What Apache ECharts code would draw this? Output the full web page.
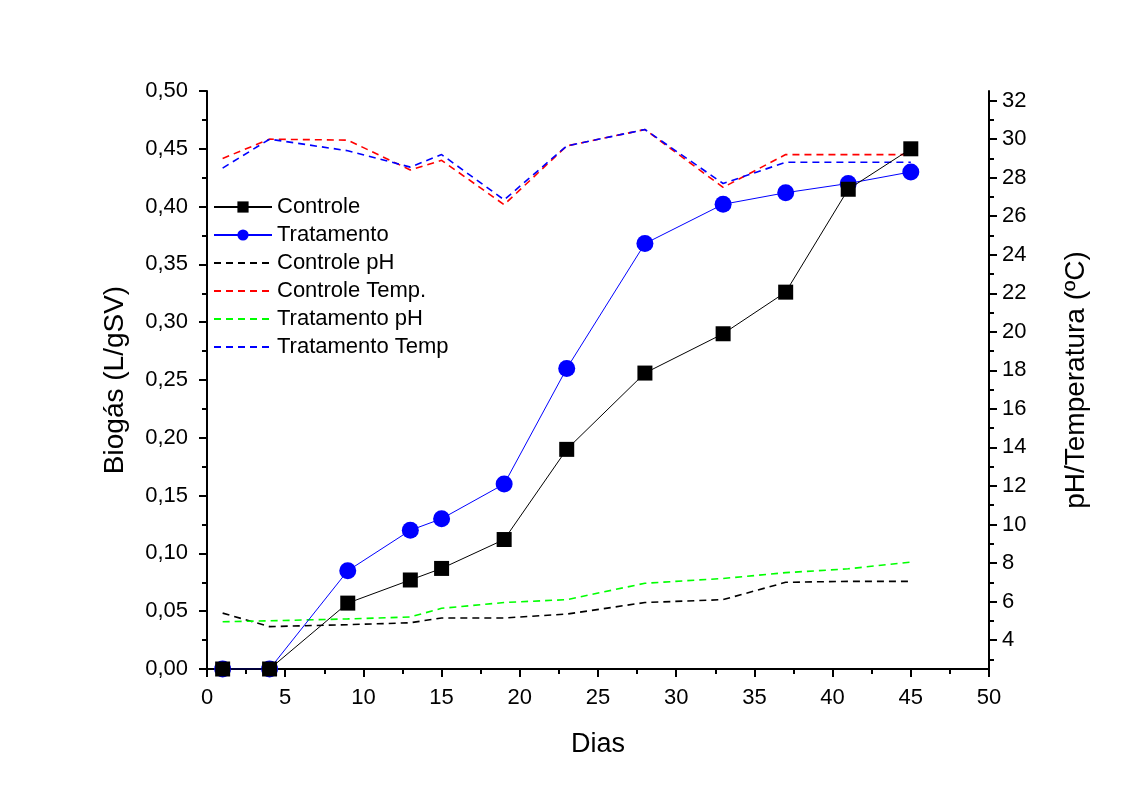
<!DOCTYPE html>
<html>
<head>
<meta charset="utf-8">
<script src="https://cdn.jsdelivr.net/npm/echarts@6/dist/echarts.min.js"></script>
<style>
html,body{margin:0;padding:0;background:#fff;}
#chart{width:1131px;height:794px;}
</style>
</head>
<body>
<div id="chart"></div>
<script>
const days = [1, 4, 9, 13, 15, 19, 23, 28, 33, 37, 41, 45];
const controle = [0, 0, 0.057, 0.077, 0.087, 0.112, 0.19, 0.256, 0.29, 0.326, 0.415, 0.45];
const tratamento = [0, 0, 0.085, 0.12, 0.13, 0.16, 0.26, 0.368, 0.402, 0.412, 0.42, 0.43];
const controlePH = [5.4, 4.7, 4.8, 4.9, 5.15, 5.15, 5.35, 5.95, 6.1, 7.0, 7.05, 7.05];
const controleTemp = [29.0, 30.0, 29.95, 28.4, 28.9, 26.6, 29.65, 30.5, 27.5, 29.2, 29.2, 29.2];
const tratamentoPH = [4.95, 5.0, 5.1, 5.2, 5.65, 5.95, 6.1, 6.95, 7.2, 7.5, 7.7, 8.05];
const tratamentoTemp = [28.5, 30.0, 29.4, 28.55, 29.2, 26.85, 29.65, 30.5, 27.7, 28.8, 28.8, 28.8];
const rightMajor = [4, 6, 8, 10, 12, 14, 16, 18, 20, 22, 24, 26, 28, 30, 32];
const rightMinor = [3, 5, 7, 9, 11, 13, 15, 17, 19, 21, 23, 25, 27, 29, 31];
const legendNames = ['Controle', 'Tratamento', 'Controle pH', 'Controle Temp.', 'Tratamento pH', 'Tratamento Temp'];

const pairs = (ys) => days.map((d, i) => [d, ys[i]]);
const FONT = '"Liberation Sans", Arial, sans-serif';

const chart = echarts.init(document.getElementById('chart'));
const axisLineStyle = { color: '#000', width: 2 };
chart.setOption({
  backgroundColor: '#fff',
  animation: false,
  grid: { left: 207, right: 142, top: 91, bottom: 125 },
  legend: {
    orient: 'vertical',
    left: 208, top: 191,
    itemWidth: 58, itemHeight: 14, itemGap: 6,
    textStyle: { fontFamily: FONT, fontSize: 22, color: '#000' },
    data: legendNames.map((n, i) => i < 2 ? { name: n } : { name: n, itemStyle: { opacity: 0 } })
  },
  xAxis: {
    type: 'value', min: 0, max: 50, interval: 5,
    name: 'Dias', nameLocation: 'middle', nameGap: 62,
    nameTextStyle: { fontFamily: FONT, fontSize: 27, color: '#000' },
    axisLine: { show: true, onZero: false, lineStyle: axisLineStyle },
    axisTick: { show: true, length: 8, lineStyle: axisLineStyle },
    minorTick: { show: true, splitNumber: 2, length: 5, lineStyle: { color: '#000', width: 2 } },
    axisLabel: { fontFamily: FONT, fontSize: 22, color: '#000', margin: 18 },
    splitLine: { show: false }
  },
  yAxis: [
    {
      type: 'value', min: 0, max: 0.5, interval: 0.05, position: 'left',
      name: 'Biogás (L/gSV)', nameLocation: 'middle', nameGap: 78, nameRotate: 90,
      nameTextStyle: { fontFamily: FONT, fontSize: 28, color: '#000' },
      axisLine: { show: true, lineStyle: axisLineStyle },
      axisTick: { show: true, length: 8, lineStyle: axisLineStyle },
      minorTick: { show: true, splitNumber: 2, length: 5, lineStyle: { color: '#000', width: 2 } },
      axisLabel: { fontFamily: FONT, fontSize: 22, color: '#000', margin: 19,
        formatter: v => v.toFixed(2).replace('.', ',') },
      splitLine: { show: false }
    },
    {
      type: 'value', min: 2.5, max: 32.5, position: 'right',
      name: 'pH/Temperatura (ºC)', nameLocation: 'middle', nameGap: 73, nameRotate: 90,
      nameTextStyle: { fontFamily: FONT, fontSize: 28, color: '#000' },
      axisLine: { show: true, lineStyle: axisLineStyle },
      axisTick: { show: true, length: 8, customValues: rightMajor, lineStyle: axisLineStyle },
      axisLabel: { fontFamily: FONT, fontSize: 22, color: '#000', margin: 13, customValues: rightMajor },
      splitLine: { show: false }
    },
    {
      type: 'value', min: 2.5, max: 32.5, position: 'right',
      axisLine: { show: false },
      axisTick: { show: true, length: 5, customValues: rightMinor, lineStyle: axisLineStyle },
      axisLabel: { show: false },
      splitLine: { show: false }
    }
  ],
  series: [
    { name: 'Controle', type: 'line', yAxisIndex: 0, data: pairs(controle),
      symbol: 'rect', symbolSize: 15, showAllSymbol: true,
      itemStyle: { color: '#000' }, lineStyle: { color: '#000', width: 1 }, z: 5 },
    { name: 'Tratamento', type: 'line', yAxisIndex: 0, data: pairs(tratamento),
      symbol: 'circle', symbolSize: 17, showAllSymbol: true,
      itemStyle: { color: '#0000ff' }, lineStyle: { color: '#0000ff', width: 1 }, z: 4 },
    { name: 'Controle pH', type: 'line', yAxisIndex: 1, data: pairs(controlePH),
      symbol: 'none', itemStyle: { color: '#000' },
      lineStyle: { color: '#000', width: 1.6, type: [7, 5] } },
    { name: 'Controle Temp.', type: 'line', yAxisIndex: 1, data: pairs(controleTemp),
      symbol: 'none', itemStyle: { color: '#ff0000' },
      lineStyle: { color: '#ff0000', width: 1.6, type: [7, 5] } },
    { name: 'Tratamento pH', type: 'line', yAxisIndex: 1, data: pairs(tratamentoPH),
      symbol: 'none', itemStyle: { color: '#00ff00' },
      lineStyle: { color: '#00ff00', width: 1.6, type: [7, 5] } },
    { name: 'Tratamento Temp', type: 'line', yAxisIndex: 1, data: pairs(tratamentoTemp),
      symbol: 'none', itemStyle: { color: '#0000ff' },
      lineStyle: { color: '#0000ff', width: 1.6, type: [7, 5] } }
  ]
});
</script>
</body>
</html>
